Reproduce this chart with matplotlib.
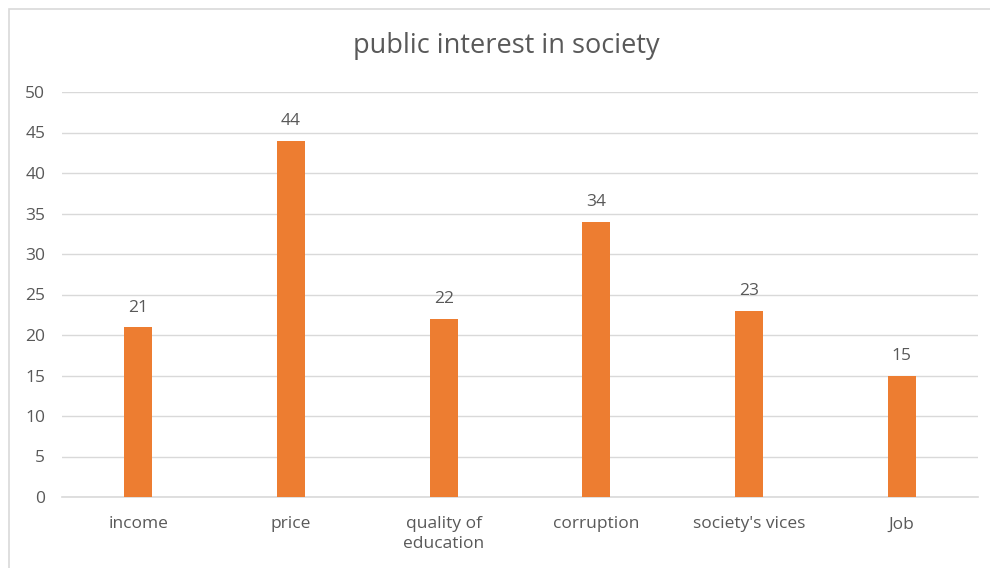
import matplotlib.pyplot as plt
from matplotlib.patches import Rectangle

categories = ['income', 'price', 'quality of\neducation', 'corruption',
              "society's vices", 'Job']
values = [21, 44, 22, 34, 23, 15]

plt.rcParams['font.family'] = ['Open Sans', 'DejaVu Sans']
text_color = '#595959'
grid_color = '#d9d9d9'

fig = plt.figure(figsize=(9.9, 5.68), dpi=100)

# chart area outline (runs off the right and bottom edges)
fig.patches.append(Rectangle((9 / 990, -0.1), 1.5, 1 - 9 / 568 + 0.1,
                             transform=fig.transFigure, fill=False,
                             edgecolor=grid_color, linewidth=1.2))

ax = fig.add_axes([62 / 990, 71 / 568, 916 / 990, 405 / 568])

x = range(len(categories))
bars = ax.bar(x, values, width=0.185, color='#ED7D31', zorder=3)

for b, v in zip(bars, values):
    ax.text(b.get_x() + b.get_width() / 2, v + 1.4, str(v),
            ha='center', va='bottom', fontsize=12.5, color=text_color)

ax.set_xlim(-0.5, len(categories) - 0.5)
ax.set_ylim(0, 50)
ax.set_yticks(range(0, 51, 5))
ax.set_xticks(list(x))
ax.set_xticklabels(categories, fontsize=12.5, color=text_color,
                   linespacing=1.3)
ax.tick_params(axis='y', labelsize=12.5, labelcolor=text_color, length=0, pad=12)
ax.tick_params(axis='x', length=0, pad=14)

ax.grid(axis='y', color=grid_color, linewidth=1, zorder=0)
ax.axhline(0, color=grid_color, linewidth=1.2, zorder=2, clip_on=False)
for s in ax.spines.values():
    s.set_visible(False)

fig.text(506 / 990, 1 - 46 / 568, 'public interest in society',
         ha='center', va='center', fontsize=19.5, color=text_color)

fig.savefig('out.png', dpi=100)
